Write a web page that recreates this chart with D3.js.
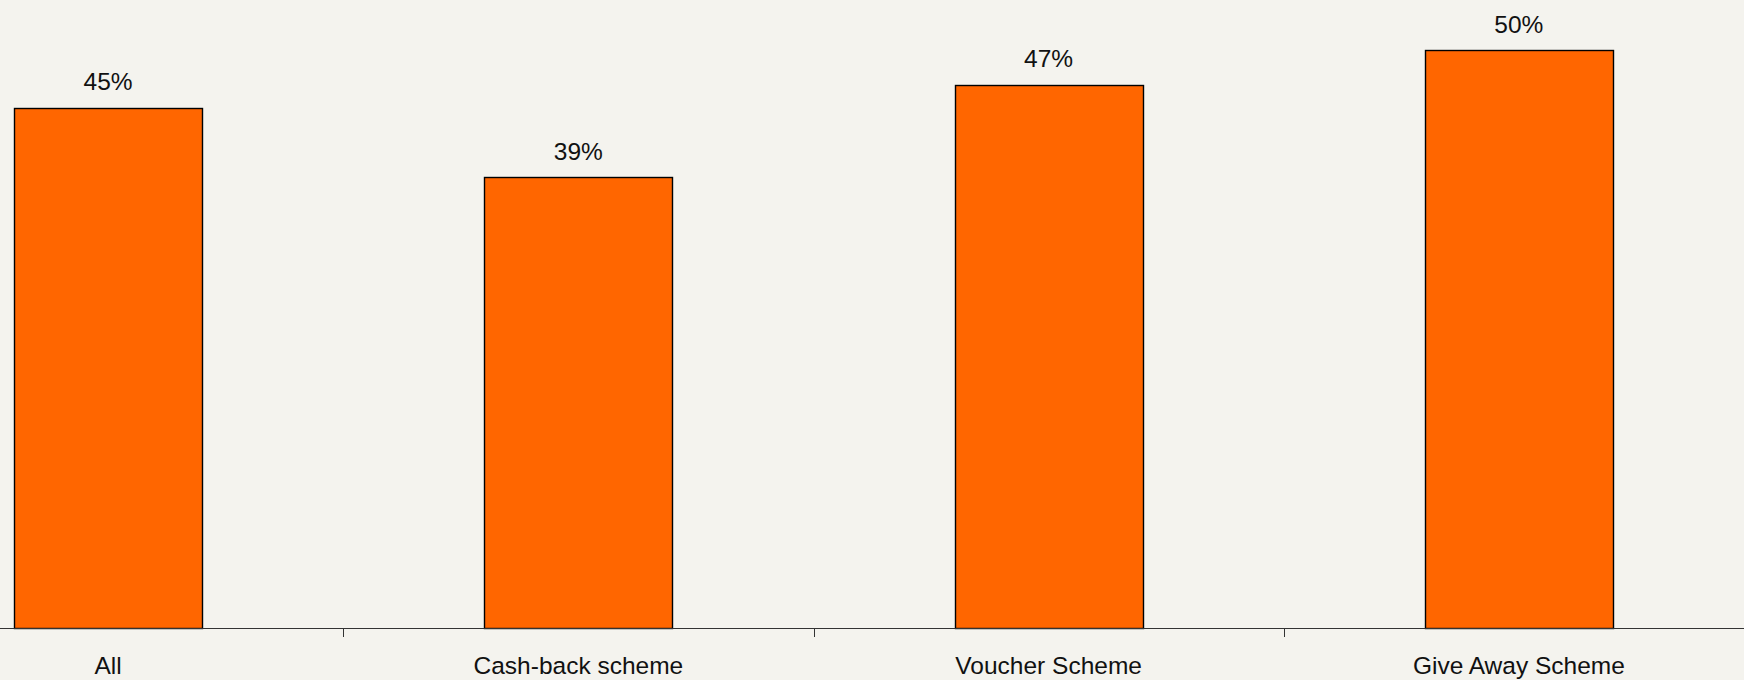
<!DOCTYPE html>
<html>
  <head>
    <meta charset="utf-8">
    <title>Scheme chart</title>
    <script src="https://d3js.org/d3.v7.min.js" charset="utf-8"></script>
    <style>
      html, body { margin: 0; padding: 0; background: #f4f3ee; }
      svg { display: block; }
    </style>
  </head>
  <body>
    <svg width="1744" height="680"></svg>

    <script>
    //chart data
    var categories = ["All", "Cash-back scheme", "Voucher Scheme", "Give Away Scheme"];
    var values = [0.45, 0.39, 0.47, 0.50];

    var svg = d3.select("svg");

    //plot area runs a bit past the picture on both sides
    var x = d3.scaleBand()
        .domain(categories)
        .range([-127, 1754]);

    var y = d3.scaleLinear()
        .domain([0, 0.5])
        .range([628, 50.2]);

    var barWidth = x.bandwidth() * 0.4;
    var fmt = d3.format(".0%");

    var data = categories.map(function(c, i) { return {cat: c, value: values[i]}; });

    //bars
    svg.append("g")
      .selectAll("rect")
      .data(data)
      .enter().append("rect")
        .attr("x", function(d) { return Math.round(x(d.cat) + x.bandwidth() / 2 - barWidth / 2) + 0.5; })
        .attr("y", function(d) { return Math.round(y(d.value)) + 0.5; })
        .attr("width", Math.round(barWidth))
        .attr("height", function(d) { return Math.round(y(0)) - Math.round(y(d.value)); })
        .attr("fill", "#ff6600")
        .attr("stroke", "#000")
        .attr("stroke-width", 1.4);

    //value labels
    svg.append("g")
        .attr("font-family", "Arial, 'Liberation Sans', sans-serif")
        .attr("font-size", 24.5)
        .attr("text-anchor", "middle")
        .attr("fill", "#111")
      .selectAll("text")
      .data(data)
      .enter().append("text")
        .attr("x", function(d) { return x(d.cat) + x.bandwidth() / 2; })
        .attr("y", function(d) { return y(d.value) - 17.5; })
        .text(function(d) { return fmt(d.value); });

    //x axis
    var axis = svg.append("g")
        .attr("transform", "translate(0," + y(0) + ")")
        .call(d3.axisBottom(x).tickSize(0).tickSizeOuter(0).tickPadding(29));

    axis.select(".domain").attr("stroke", "#333");
    axis.selectAll("text")
        .attr("font-family", "Arial, 'Liberation Sans', sans-serif")
        .attr("font-size", 24.5)
        .attr("fill", "#111");

    //tick marks between categories
    axis.selectAll(".sep")
      .data(categories.slice(1))
      .enter().append("line")
        .attr("class", "sep")
        .attr("x1", function(d) { return Math.round(x(d)) + 0.5; })
        .attr("x2", function(d) { return Math.round(x(d)) + 0.5; })
        .attr("y1", 0.5)
        .attr("y2", 9)
        .attr("stroke", "#333");
    </script>
  </body>
</html>
